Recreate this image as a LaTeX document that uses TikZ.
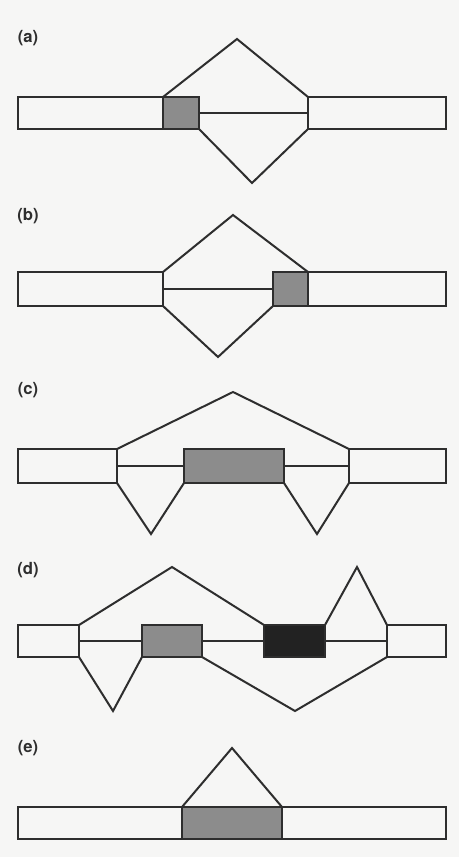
\documentclass[tikz,border=0pt]{standalone}
\usepackage{fontspec}
\setmainfont{TeX Gyre Heros}
\usetikzlibrary{fit}
\definecolor{paper}{HTML}{F6F6F5}
\definecolor{ink}{HTML}{2E2E2E}
\definecolor{shade}{HTML}{8C8C8C}
\definecolor{dark}{HTML}{222222}
\tikzset{
  exon/.style={draw=ink, line width=1.5pt, rectangle, inner sep=0pt, outer sep=0pt, fill=paper},
  altexon/.style={exon, fill=shade},
  darkexon/.style={exon, fill=dark},
  intron/.style={draw=ink, line width=1.5pt, line join=miter},
  splice/.style={draw=ink, line width=1.5pt, line join=miter},
  tag/.style={font=\bfseries\fontsize{12.5}{14}\selectfont, text=ink, inner sep=0pt}
}
\begin{document}
\begin{tikzpicture}[x=0.75pt, y=-0.75pt]
  \fill[paper] (0,0) rectangle (459,857);
  \useasboundingbox (0,0) rectangle (459,857);

  % ---- (a) ----
  \node[tag] (la) at (28,38) {(a)};
  \node[exon, fit={(18,97)(163,129)}] (a1) {};
  \node[altexon, fit={(163,97)(199,129)}] (a2) {};
  \node[exon, fit={(308,97)(446,129)}] (a3) {};
  \coordinate (atop) at (237,39);
  \coordinate (abot) at (252,183);
  \draw[intron] (a2.east) -- (a3.west);
  \draw[splice] (a2.north west) -- (atop) -- (a3.north west);
  \draw[splice] (a2.south east) -- (abot) -- (a3.south west);

  % ---- (b) ----
  \node[tag] (lb) at (28,216) {(b)};
  \node[exon, fit={(18,272)(163,306)}] (b1) {};
  \node[altexon, fit={(273,272)(308,306)}] (b2) {};
  \node[exon, fit={(308,272)(446,306)}] (b3) {};
  \coordinate (btop) at (233,215);
  \coordinate (bbot) at (218,357);
  \draw[intron] (b1.east) -- (b2.west);
  \draw[splice] (b1.north east) -- (btop) -- (b3.north west);
  \draw[splice] (b1.south east) -- (bbot) -- (b2.south west);

  % ---- (c) ----
  \node[tag] (lc) at (28,390) {(c)};
  \node[exon, fit={(18,449)(117,483)}] (c1) {};
  \node[altexon, fit={(184,449)(284,483)}] (c2) {};
  \node[exon, fit={(349,449)(446,483)}] (c3) {};
  \coordinate (ctop) at (233,392);
  \coordinate (cbl) at (151,534);
  \coordinate (cbr) at (317,534);
  \draw[intron] (c1.east) -- (c2.west);
  \draw[intron] (c2.east) -- (c3.west);
  \draw[splice] (c1.north east) -- (ctop) -- (c3.north west);
  \draw[splice] (c1.south east) -- (cbl) -- (c2.south west);
  \draw[splice] (c2.south east) -- (cbr) -- (c3.south west);

  % ---- (d) ----
  \node[tag] (ld) at (28,570) {(d)};
  \node[exon, fit={(18,625)(79,657)}] (d1) {};
  \node[altexon, fit={(142,625)(202,657)}] (d2) {};
  \node[darkexon, fit={(264,625)(325,657)}] (d3) {};
  \node[exon, fit={(387,625)(446,657)}] (d4) {};
  \coordinate (dtop) at (172,567);
  \coordinate (dtopr) at (357,567);
  \coordinate (dbl) at (113,711);
  \coordinate (dbr) at (295,711);
  \draw[intron] (d1.east) -- (d2.west);
  \draw[intron] (d2.east) -- (d3.west);
  \draw[intron] (d3.east) -- (d4.west);
  \draw[splice] (d1.north east) -- (dtop) -- (d3.north west);
  \draw[splice] (d3.north east) -- (dtopr) -- (d4.north west);
  \draw[splice] (d1.south east) -- (dbl) -- (d2.south west);
  \draw[splice] (d2.south east) -- (dbr) -- (d4.south west);

  % ---- (e) ----
  \node[tag] (le) at (28,748) {(e)};
  \node[exon, fit={(18,807)(182,839)}] (e1) {};
  \node[altexon, fit={(182,807)(282,839)}] (e2) {};
  \node[exon, fit={(282,807)(446,839)}] (e3) {};
  \coordinate (etop) at (232,748);
  \draw[splice] (e2.north west) -- (etop) -- (e2.north east);
\end{tikzpicture}
\end{document}
